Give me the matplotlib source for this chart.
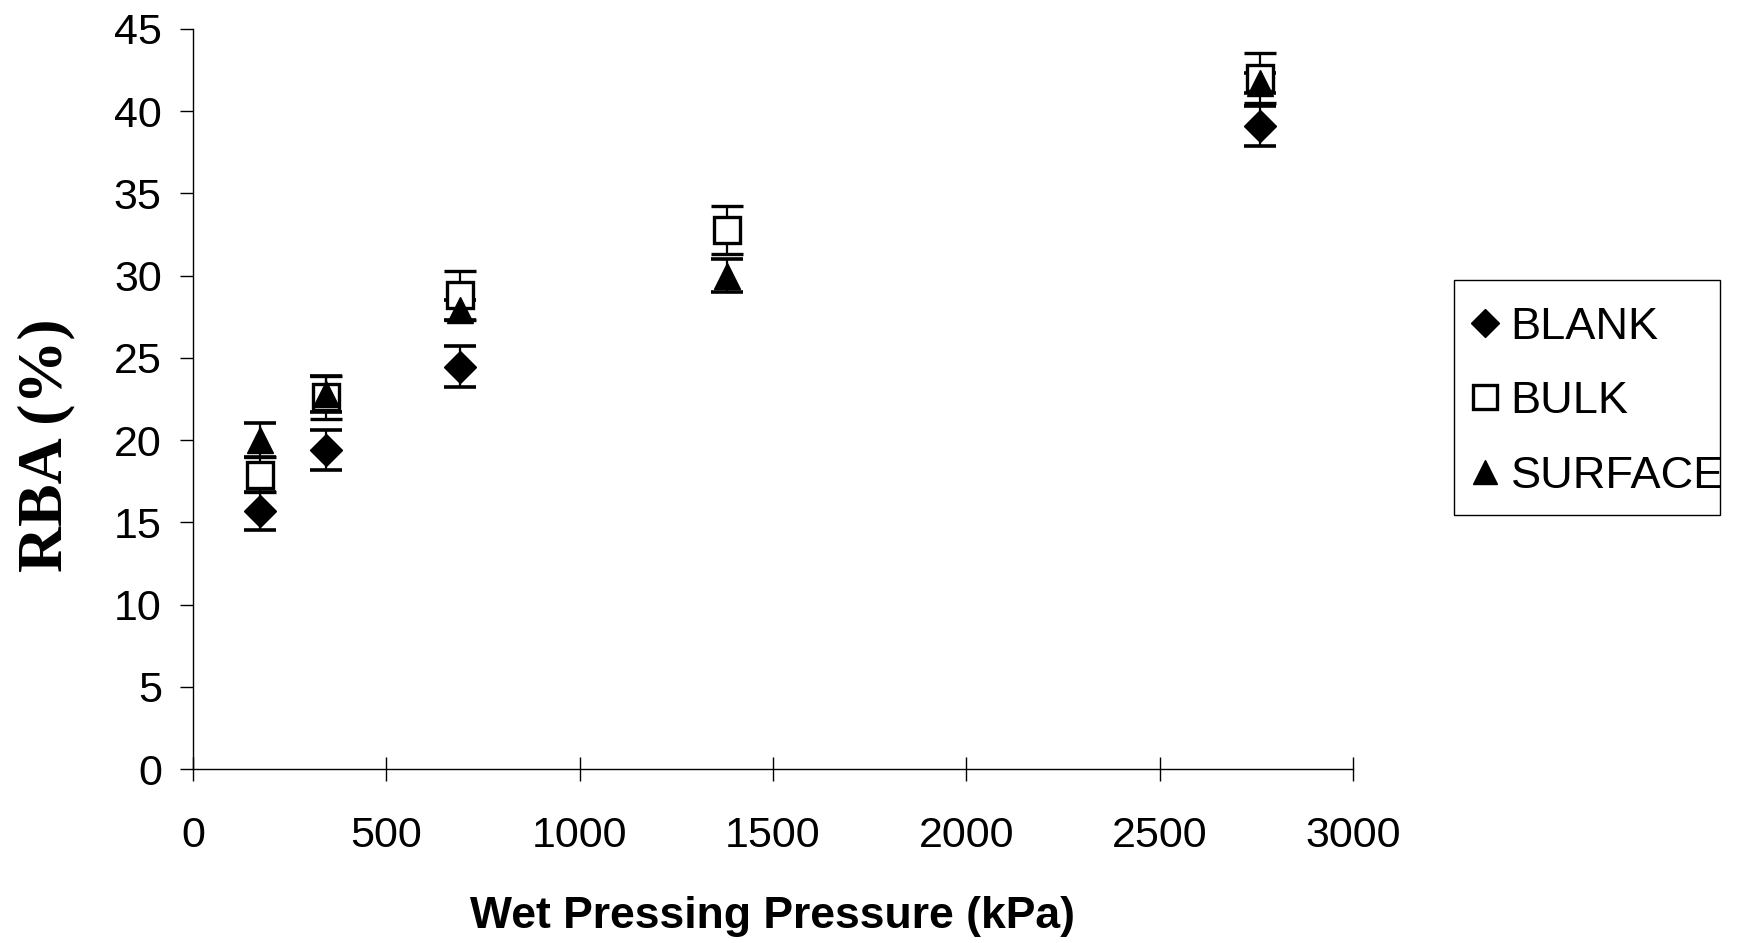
import numpy as np
import matplotlib.pyplot as plt
from matplotlib.patches import Rectangle
from matplotlib.transforms import Bbox, TransformedBbox

# wet pressing pressure (kPa) and relative bonded area (%)
pressure = [172, 345, 690, 1380, 2760]

blank = [15.7, 19.4, 24.45, np.nan, 39.1]
blank_err = [1.15, 1.2, 1.25, np.nan, 1.2]

bulk = [17.9, 22.6, 28.8, 32.75, 42.0]
bulk_err = [1.05, 1.3, 1.5, 1.45, 1.5]

surface = [20.0, 22.8, 27.9, 30.0, 41.7]
surface_err = [1.05, 1.1, 0.6, 1.0, 0.6]

labels = ['BLANK', 'BULK', 'SURFACE']

plt.rcParams['font.family'] = ['Liberation Sans', 'DejaVu Sans']

fig = plt.figure(figsize=(17.39, 9.43), dpi=100)
ax = fig.add_axes([0.111, 0.1845, 0.667, 0.785])

err_style = dict(ecolor='black', elinewidth=1.6, capsize=11.5, capthick=2.6,
                 linestyle='none')

c1 = ax.errorbar(pressure, blank, yerr=blank_err, marker='D', ms=16,
                 mfc='black', mec='black', **err_style)
c2 = ax.errorbar(pressure, bulk, yerr=bulk_err, marker='s', ms=18.5,
                 mfc='white', mec='black', mew=2.4, **err_style)
c3 = ax.errorbar(pressure, surface, yerr=surface_err, marker='^', ms=19,
                 mfc='black', mec='black', **err_style)

ax.set_xlim(0, 3000)
ax.set_ylim(0, 45)
ax.set_xticks(range(0, 3001, 500))
ax.set_yticks(range(0, 46, 5))

for s in ['top', 'right']:
    ax.spines[s].set_visible(False)
for s in ['left', 'bottom']:
    ax.spines[s].set_linewidth(1.0)

ax.tick_params(axis='x', direction='inout', length=17, width=1,
               labelsize=31, pad=25)
ax.tick_params(axis='y', direction='out', length=9.5, width=1,
               labelsize=31, pad=13)

ax.set_xlabel('Wet Pressing Pressure (kPa)', fontsize=32, fontweight='bold')
ax.xaxis.set_label_coords(0.5, -0.172)
ax.set_ylabel('RBA (%)', fontsize=46, fontweight='bold',
              family='Liberation Serif')
ax.yaxis.set_label_coords(-0.101, 0.437)

# legend box, with text cut at the frame edge
box = Rectangle((0.836, 0.454), 0.153, 0.249, transform=fig.transFigure,
                facecolor='white', edgecolor='black', lw=1.0, zorder=5)
fig.patches.append(box)

handles = [c1[0], c2[0], c3[0]]
leg = fig.legend(handles, labels, loc='upper left',
                 bbox_to_anchor=(0.824, 0.713), frameon=False, fontsize=32.5,
                 markerscale=0.9, handlelength=0.7, handletextpad=0.22,
                 labelspacing=0.74, borderpad=0.3)
leg.set_zorder(6)
clip = TransformedBbox(Bbox([[0.836, 0.454], [0.989, 0.703]]), fig.transFigure)
for t in leg.get_texts():
    t.set_clip_box(clip)
    t.set_clip_on(True)

fig.savefig('out.png', dpi=100)
